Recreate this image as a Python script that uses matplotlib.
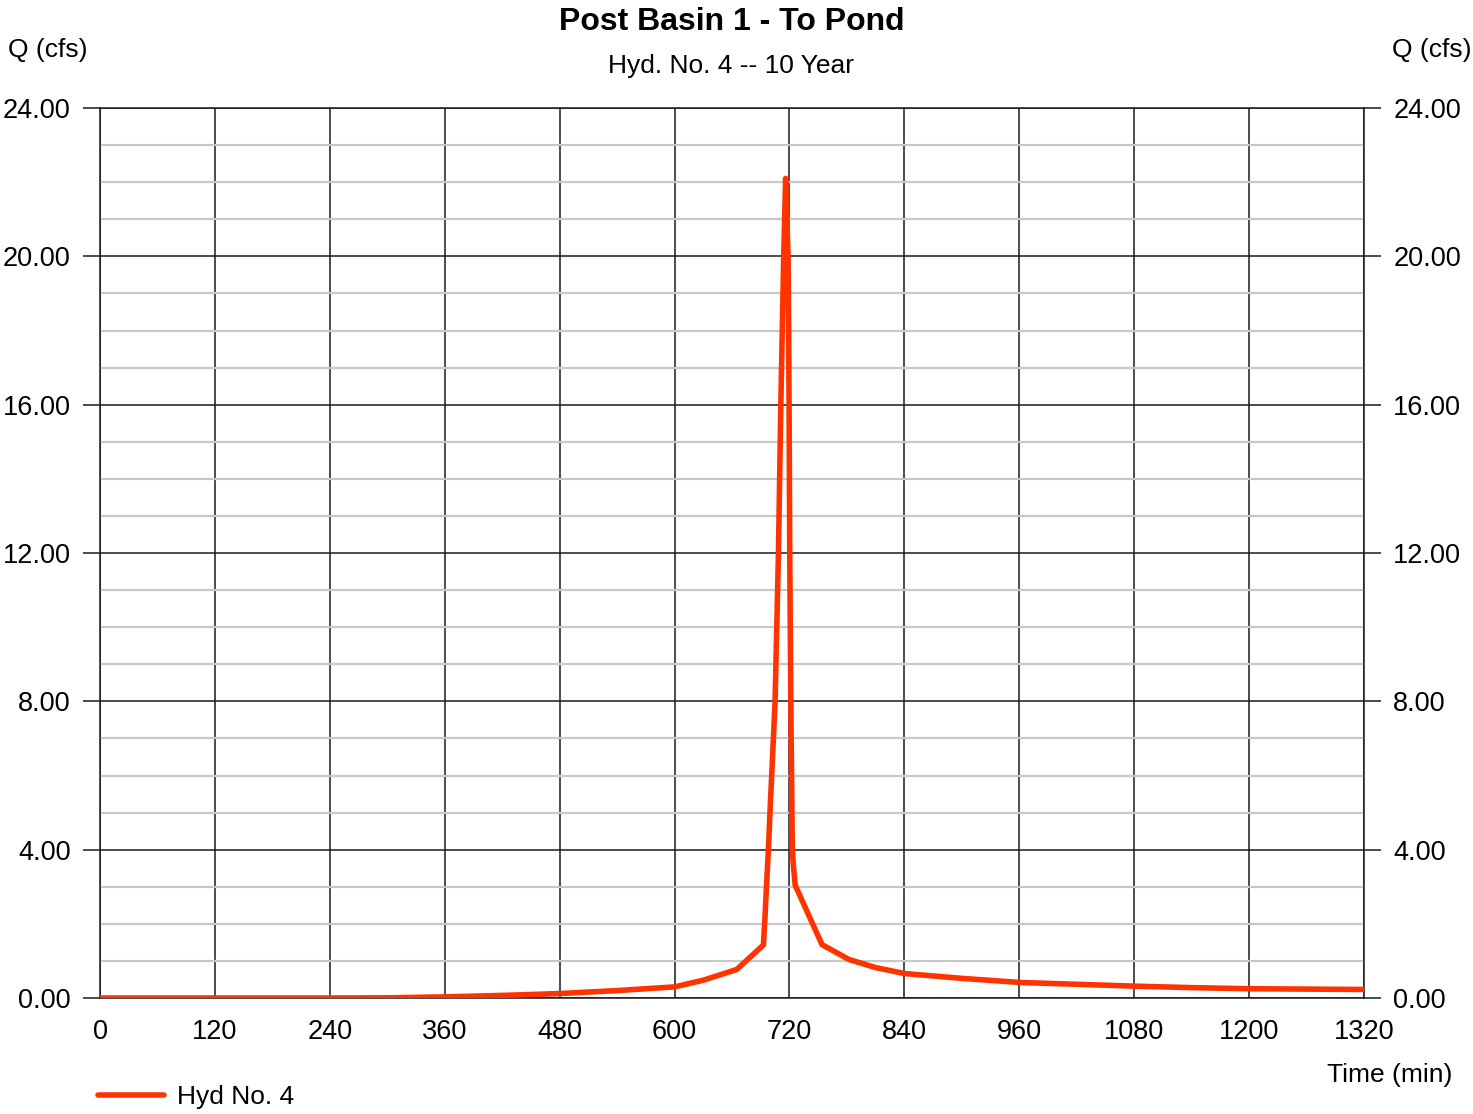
import matplotlib
matplotlib.use("Agg")
import matplotlib.pyplot as plt
from matplotlib.ticker import MultipleLocator

plt.rcParams['font.family'] = ['Liberation Sans', 'DejaVu Sans']

# Data (time in minutes, flow in cfs)
time_min = [0, 240, 300, 360, 420, 480, 540, 600, 630, 665, 692.8,
            694.5, 696, 698, 700, 702, 705, 708.5, 711, 714, 716,
            718.6, 719.6, 720.3, 721.4, 723, 724, 726, 754, 782,
            810, 840, 900, 960, 1020, 1080, 1140, 1200, 1260, 1320]
flow_cfs = [0.0, 0.0, 0.005, 0.03, 0.07, 0.12, 0.2, 0.3, 0.48, 0.77, 1.43,
            2.2, 3.0, 4.0, 5.2, 6.3, 8.0, 12.0, 16.0, 20.0, 22.1,
            20.0, 16.0, 12.0, 8.0, 4.0, 3.6, 3.04, 1.44, 1.04,
            0.82, 0.66, 0.53, 0.42, 0.37, 0.32, 0.28, 0.25, 0.24, 0.23]

x_ticks = [0, 120, 240, 360, 480, 600, 720, 840, 960, 1080, 1200, 1320]
y_ticks = [0, 4, 8, 12, 16, 20, 24]

title = "Post Basin 1 - To Pond"
subtitle = "Hyd. No. 4 -- 10 Year"
series_name = "Hyd No. 4"

W, H = 1473, 1114
fig = plt.figure(figsize=(W / 100, H / 100), dpi=100)
ax = fig.add_axes([100 / W, 1 - 998 / H, 1264 / W, 890 / H])

ax.set_xlim(0, 1320)
ax.set_ylim(0, 24)
ax.set_xticks(x_ticks)
ax.set_yticks(y_ticks)
ax.yaxis.set_minor_locator(MultipleLocator(1))
ax.set_yticklabels([f"{v:.2f}" for v in y_ticks])

ax.grid(True, which='minor', axis='y', color='#c8c8c8', linewidth=1.6, zorder=0)
ax.grid(True, which='major', axis='both', color='#1a1a1a', linewidth=1.1, zorder=1)

ax.plot(time_min, flow_cfs, color='#ff3300', linewidth=4.0, solid_joinstyle='round',
        solid_capstyle='round', zorder=3, label=series_name)

for s in ax.spines.values():
    s.set_color('#1a1a1a')
    s.set_linewidth(1.1)

ax.tick_params(axis='y', which='major', length=12, width=1.1, color='#1a1a1a',
               labelsize=19.5, pad=9, left=True, right=True, labelleft=True, labelright=True)
ax.tick_params(axis='y', which='minor', length=0, left=False, right=False)
ax.tick_params(axis='x', which='major', length=0, labelsize=19.5, pad=15)

fig.text(732 / W, 1 - 22 / H, title, ha='center', va='center', fontsize=23, fontweight='bold')
fig.text(731 / W, 1 - 66 / H, subtitle, ha='center', va='center', fontsize=19)
fig.text(8 / W, 1 - 50 / H, "Q (cfs)", ha='left', va='center', fontsize=19)
fig.text(1472 / W, 1 - 50 / H, "Q (cfs)", ha='right', va='center', fontsize=19)
fig.text(1452 / W, 1 - 1075 / H, "Time (min)", ha='right', va='center', fontsize=19)

fig.legend(loc='center left', bbox_to_anchor=(98 / W, 1 - 1097 / H), frameon=False,
           fontsize=19, handlelength=2.5, handletextpad=0.5, borderpad=0, borderaxespad=0)

fig.savefig("out.png", dpi=100)
